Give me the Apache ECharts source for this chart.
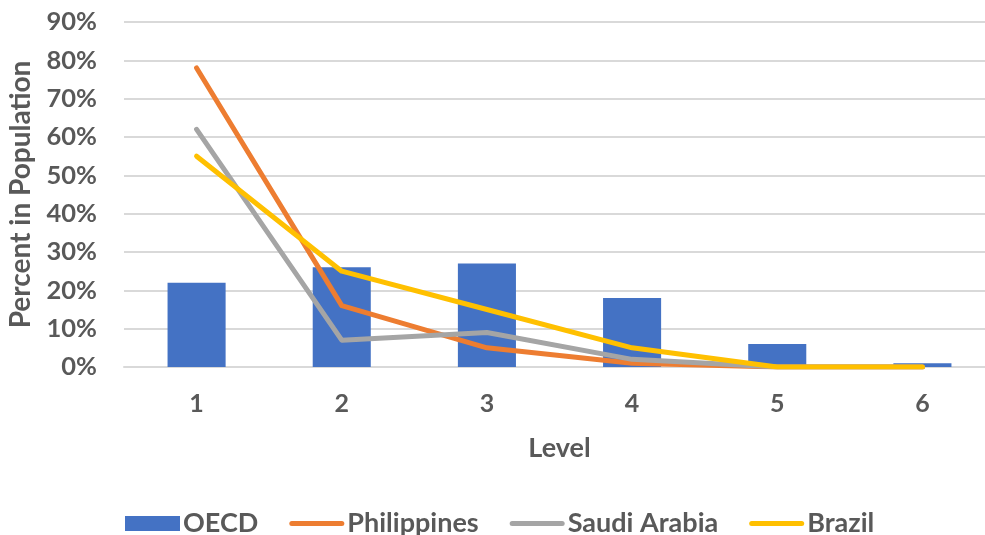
<!DOCTYPE html>
<html>
<head>
<meta charset="utf-8">
<script src="https://cdn.jsdelivr.net/npm/echarts@6/dist/echarts.min.js"></script>
<style>
  html, body { margin: 0; padding: 0; background: #fff; }
  #chart { width: 985px; height: 535px; }
</style>
</head>
<body>
<div id="chart"></div>
<script>
// Proficiency levels and share of population (%) at each level
const levels = ['1', '2', '3', '4', '5', '6'];
const oecd = [22, 26, 27, 18, 6, 1];
const philippines = [78, 16, 5, 1, 0, 0];
const saudiArabia = [62, 7, 9, 2, 0, 0];
const brazil = [55, 25, 15, 5, 0, 0];

const textColor = '#595959';
const font = 'Lato, "Open Sans", sans-serif';

// Flat rounded stroke used as the legend marker for the line series
const lineIcon = 'path://M2.5,0 L52.5,0 A2.5,2.5 0 0 1 52.5,5 L2.5,5 A2.5,2.5 0 0 1 2.5,0 Z';

const chart = echarts.init(document.getElementById('chart'), null, { renderer: 'canvas' });

function lineSeries(name, data, color) {
  return {
    name: name,
    type: 'line',
    data: data,
    symbol: 'none',
    smooth: false,
    lineStyle: { color: color, width: 5, cap: 'round', join: 'round' },
    itemStyle: { color: color }
  };
}

chart.setOption({
  animation: false,
  textStyle: { fontFamily: font },
  grid: { left: 124, top: 22, width: 871, height: 345, containLabel: false, outerBoundsMode: 'none' },
  xAxis: {
    type: 'category',
    data: levels,
    name: 'Level',
    nameLocation: 'middle',
    nameGap: 68,
    nameTextStyle: { color: textColor, fontSize: 27, fontWeight: 'bold', fontFamily: font },
    axisLine: { show: true, lineStyle: { color: '#d9d9d9', width: 2 } },
    axisTick: { show: false },
    axisLabel: { color: textColor, fontSize: 25, fontWeight: 'bold', margin: 24, fontFamily: font }
  },
  yAxis: {
    type: 'value',
    min: 0,
    max: 90,
    interval: 10,
    name: 'Percent in Population',
    nameLocation: 'middle',
    nameGap: 89,
    nameTextStyle: { color: textColor, fontSize: 28, fontWeight: 'bold', fontFamily: font },
    axisLine: { show: false },
    axisTick: { show: false },
    splitLine: { lineStyle: { color: '#d9d9d9', width: 2 } },
    axisLabel: {
      color: textColor, fontSize: 25.5, fontWeight: 'bold', margin: 27, fontFamily: font,
      formatter: v => v + '%'
    }
  },
  legend: {
    top: 510,
    left: 125,
    padding: 0,
    itemWidth: 55,
    itemHeight: 15,
    itemGap: 31,
    symbolKeepAspect: true,
    textStyle: { color: textColor, fontSize: 27, fontWeight: 'bold', fontFamily: font, padding: [0, 0, 0, -2] },
    data: [
      { name: 'OECD', icon: 'rect' },
      { name: 'Philippines', icon: lineIcon },
      { name: 'Saudi Arabia', icon: lineIcon },
      { name: 'Brazil', icon: lineIcon }
    ]
  },
  series: [
    {
      name: 'OECD',
      type: 'bar',
      data: oecd,
      barWidth: '40%',
      itemStyle: { color: '#4472C4' }
    },
    lineSeries('Philippines', philippines, '#ED7D31'),
    lineSeries('Saudi Arabia', saudiArabia, '#A5A5A5'),
    lineSeries('Brazil', brazil, '#FFC000')
  ]
});
</script>
</body>
</html>
